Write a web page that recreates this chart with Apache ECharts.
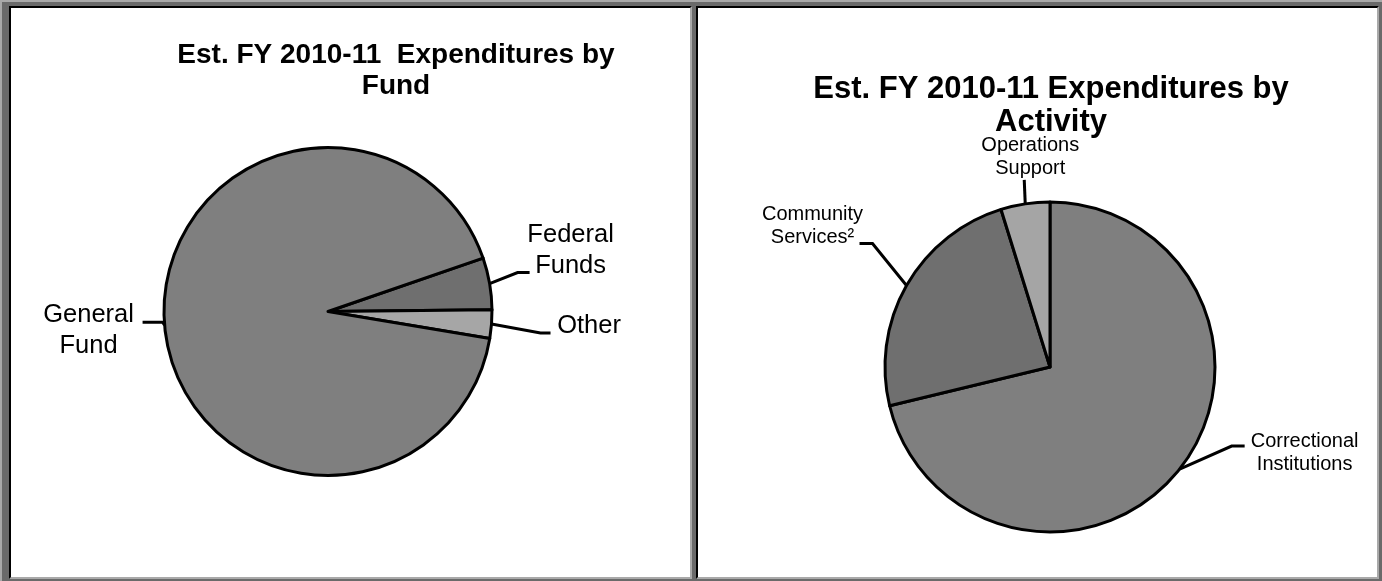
<!DOCTYPE html>
<html>
<head>
<meta charset="utf-8">
<script src="https://cdn.jsdelivr.net/npm/echarts@6/dist/echarts.min.js"></script>
<style>
  html, body { margin: 0; padding: 0; width: 1382px; height: 581px; overflow: hidden; background: #6a6a6a; }
  .abs { position: absolute; }
  .panel { position: absolute; box-sizing: border-box; background: #fff;
           border-left: 2px solid #000; border-top: 2px solid #000;
           border-right: 2px solid #a9a9a9; border-bottom: 2px solid #a9a9a9; }
  #chart { position: absolute; left: 0; top: 0; width: 1382px; height: 581px; }
</style>
</head>
<body>
<div class="abs" style="left:0;top:0;width:2px;height:581px;background:#a9a9a9"></div>
<div class="abs" style="left:0;top:0;width:1382px;height:2px;background:#a9a9a9"></div>
<div class="panel" style="left:9px;top:6px;width:683px;height:573px"></div>
<div class="panel" style="left:696px;top:6px;width:683px;height:573px"></div>
<div id="chart"></div>
<script>
// ---- data ----
const fundTitle = 'Est. FY 2010-11  Expenditures by\nFund';
const fundNames = ['Federal\nFunds', 'Other', 'General\nFund'];
const fundValues = [5.1, 2.8, 92.1];

const activityTitle = 'Est. FY 2010-11 Expenditures by\nActivity';
const activityNames = ['Correctional\nInstitutions', 'Community\nServices\u00B2', 'Operations\nSupport'];
const activityValues = [71.3, 24.0, 4.8];

// ---- styles ----
const FONT = 'Liberation Sans, Arial, sans-serif';
const fundColors = ['#6f6f6f', '#a6a6a6', '#7f7f7f'];
const activityColors = ['#7f7f7f', '#6f6f6f', '#a5a5a5'];

// label-line shapes: first segment offset, horizontal second segment, text centre offset from line end
const fundLineShapes = [
  { seg1: [28, -11], seg2: 12, text: [41, -22] },
  { seg1: [49, 9], seg2: 10, text: [38.5, -7] },
  { seg1: [-2, -3], seg2: -20, text: [-54, 8] }
];
const activityLineShapes = [
  { seg1: [52, -23], seg2: 13, text: [60, 7] },
  { seg1: [-34, -42], seg2: -13, text: [-47, -17.5] },
  { seg1: [-1, -24], seg2: 0, text: [6, -23] }
];

function makeLayout(shapes) {
  return function (params) {
    const o = shapes[params.dataIndex];
    const pts = params.labelLinePoints;
    if (!o || !pts) return {};
    const p0 = pts[0];
    const p1 = [p0[0] + o.seg1[0], p0[1] + o.seg1[1]];
    const p2 = [p1[0] + o.seg2, p1[1]];
    return {
      x: p2[0] + o.text[0],
      y: p2[1] + o.text[1],
      align: 'center',
      verticalAlign: 'middle',
      labelLinePoints: [p0, p1, p2]
    };
  };
}

function toData(names, values, colors) {
  return names.map((n, i) => ({ name: n, value: values[i], itemStyle: { color: colors[i] } }));
}

const chart = echarts.init(document.getElementById('chart'), null, { renderer: 'canvas' });
chart.setOption({
  animation: false,
  backgroundColor: 'transparent',
  title: [
    {
      text: fundTitle, left: 396, top: 39.5, textAlign: 'center', padding: 0,
      textStyle: { fontFamily: FONT, fontSize: 28, fontWeight: 'bold', lineHeight: 31, color: '#000' }
    },
    {
      text: activityTitle, left: 1051, top: 72.5, textAlign: 'center', padding: 0,
      textStyle: { fontFamily: FONT, fontSize: 31, fontWeight: 'bold', lineHeight: 33, color: '#000' }
    }
  ],
  series: [
    {
      type: 'pie',
      center: [328, 311.5],
      radius: 164,
      startAngle: 19,
      clockwise: true,
      avoidLabelOverlap: false,
      silent: true,
      data: toData(fundNames, fundValues, fundColors),
      itemStyle: { borderColor: '#000', borderWidth: 3 },
      label: {
        show: true, position: 'outside', color: '#000',
        fontFamily: FONT, fontSize: 25.5, lineHeight: 31, formatter: '{b}'
      },
      labelLine: { show: true, length: 20, length2: 10, lineStyle: { color: '#000', width: 3 } },
      labelLayout: makeLayout(fundLineShapes)
    },
    {
      type: 'pie',
      center: [1050, 367],
      radius: 165,
      startAngle: 90,
      clockwise: true,
      avoidLabelOverlap: false,
      silent: true,
      data: toData(activityNames, activityValues, activityColors),
      itemStyle: { borderColor: '#000', borderWidth: 3 },
      label: {
        show: true, position: 'outside', color: '#000',
        fontFamily: FONT, fontSize: 20, lineHeight: 23, formatter: '{b}'
      },
      labelLine: { show: true, length: 20, length2: 10, lineStyle: { color: '#000', width: 3 } },
      labelLayout: makeLayout(activityLineShapes)
    }
  ]
});
</script>
</body>
</html>
